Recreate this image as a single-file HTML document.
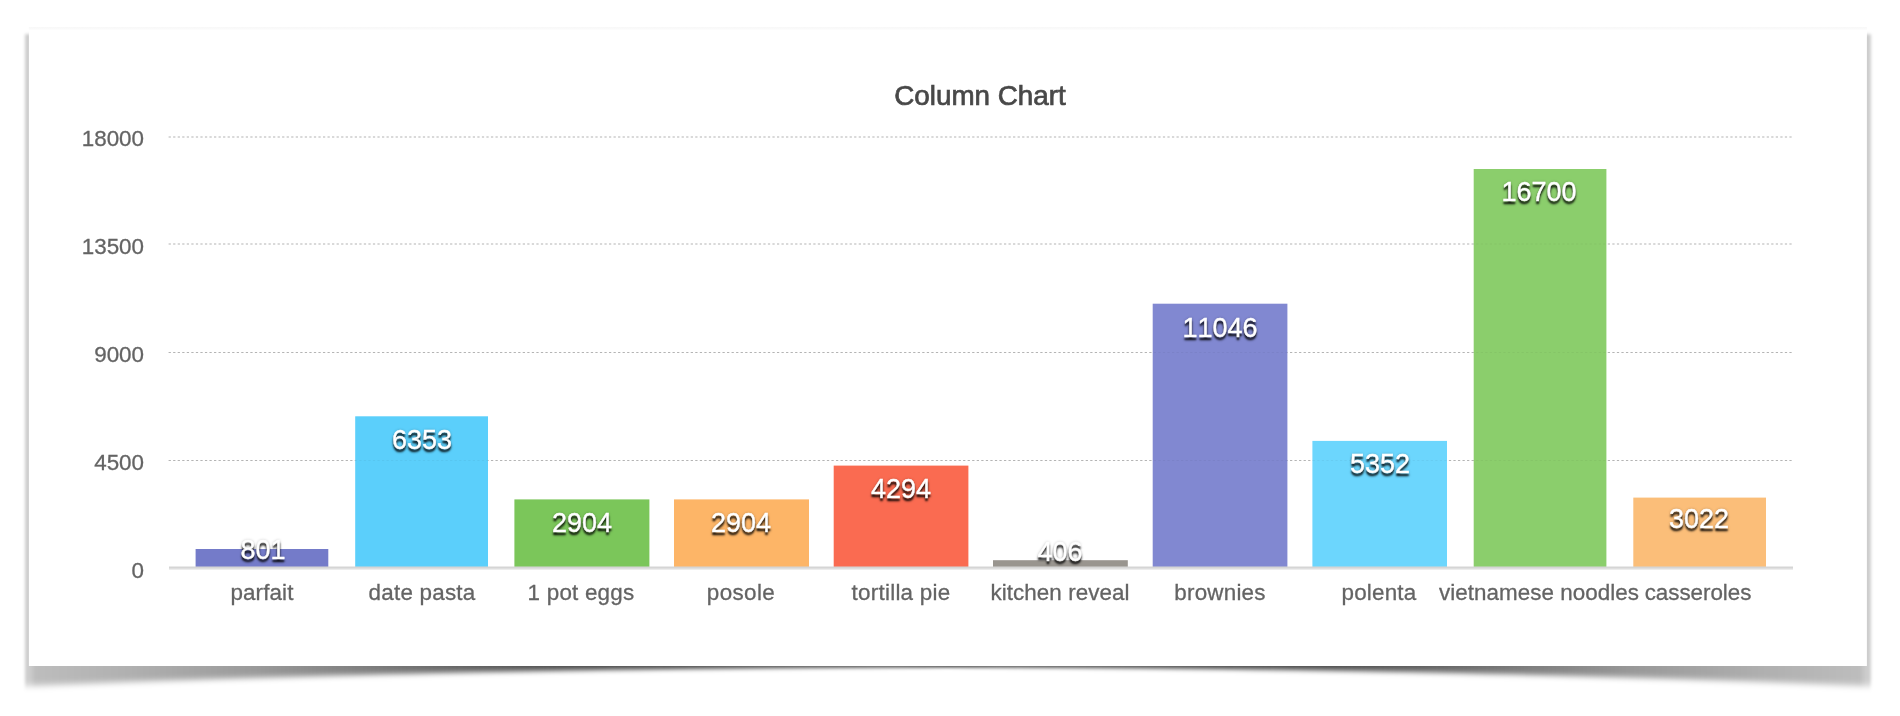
<!DOCTYPE html>
<html lang="en"><head><meta charset="utf-8"><title>Column Chart</title>
<style>
html,body{margin:0;padding:0;background:#fff;}
body{width:1900px;height:716px;position:relative;overflow:hidden;font-family:"Liberation Sans",Arial,Helvetica,sans-serif;}
#g{position:absolute;left:0;top:0;width:1900px;height:716px;}
.t{position:absolute;white-space:nowrap;line-height:1;will-change:transform;}
.title{font-size:27.8px;color:#484848;left:480.2px;width:1000px;text-align:center;-webkit-text-stroke:.7px #484848;}
.yl{font-size:22.4px;color:#646464;-webkit-text-stroke:.3px #646464;text-align:right;width:100px;left:44.1px;}
.xl{font-size:22.4px;color:#646464;-webkit-text-stroke:.3px #646464;text-align:center;width:300px;}
.bl{font-kerning:none;font-size:27px;color:#fff;text-align:center;width:200px;-webkit-text-stroke:.4px #fff;text-shadow:0 2.6px 2px rgba(0,0,0,.8),0 3px 3px rgba(0,0,0,.4),0 0 3px rgba(0,0,0,.25);}
</style></head><body>
<svg id="g" width="1900" height="716" viewBox="0 0 1900 716">
<defs>
<linearGradient id="sg" gradientUnits="userSpaceOnUse" x1="25.0" y1="0" x2="1870.6" y2="0"><stop offset="0.0000" stop-color="#000" stop-opacity="0.19"/><stop offset="0.0025" stop-color="#000" stop-opacity="0.2"/><stop offset="0.0060" stop-color="#000" stop-opacity="0.26"/><stop offset="0.0565" stop-color="#000" stop-opacity="0.31"/><stop offset="0.1270" stop-color="#000" stop-opacity="0.4"/><stop offset="0.1920" stop-color="#000" stop-opacity="0.52"/><stop offset="0.2450" stop-color="#000" stop-opacity="0.62"/><stop offset="0.2900" stop-color="#000" stop-opacity="0.69"/><stop offset="0.3550" stop-color="#000" stop-opacity="0.72"/><stop offset="0.5000" stop-color="#000" stop-opacity="0.73"/><stop offset="0.6450" stop-color="#000" stop-opacity="0.72"/><stop offset="0.7100" stop-color="#000" stop-opacity="0.69"/><stop offset="0.7550" stop-color="#000" stop-opacity="0.62"/><stop offset="0.8080" stop-color="#000" stop-opacity="0.52"/><stop offset="0.8730" stop-color="#000" stop-opacity="0.4"/><stop offset="0.9435" stop-color="#000" stop-opacity="0.31"/><stop offset="0.9940" stop-color="#000" stop-opacity="0.26"/><stop offset="0.9975" stop-color="#000" stop-opacity="0.2"/><stop offset="1.0000" stop-color="#000" stop-opacity="0.19"/></linearGradient>
<linearGradient id="te" x1="0" y1="0" x2="0" y2="1"><stop offset="0" stop-color="#f6f6f6"/><stop offset="1" stop-color="#fefefe"/></linearGradient>
<filter id="bl" filterUnits="userSpaceOnUse" x="0" y="0" width="1900" height="716"><feGaussianBlur stdDeviation="1.4"/></filter>
<mask id="sm" maskUnits="userSpaceOnUse" x="0" y="0" width="1900" height="716"><g filter="url(#bl)">
<path fill="#fff" fill-opacity="0.0401" d="M25.0 34.5L1870.6 34.5L1870.6 691.99L1845.0 690.91L1819.3 689.85L1793.7 688.82L1768.1 687.83L1742.4 686.85L1716.8 685.91L1691.2 684.99L1665.5 684.10L1639.9 683.24L1614.3 682.41L1588.6 681.60L1563.0 680.82L1537.4 680.06L1511.7 679.34L1486.1 678.63L1460.5 677.96L1434.8 677.31L1409.2 676.69L1383.6 676.09L1357.9 675.52L1332.3 674.98L1306.7 674.46L1281.0 673.96L1255.4 673.49L1229.8 673.05L1204.1 672.62L1178.5 672.22L1152.9 671.84L1127.2 671.47L1101.6 671.13L1076.0 670.80L1050.3 670.47L1024.7 670.15L999.1 669.80L973.4 669.40L947.8 668.48L922.2 669.40L896.5 669.80L870.9 670.15L845.3 670.47L819.6 670.80L794.0 671.13L768.4 671.47L742.7 671.84L717.1 672.22L691.5 672.62L665.8 673.05L640.2 673.49L614.6 673.96L588.9 674.46L563.3 674.98L537.7 675.52L512.0 676.09L486.4 676.69L460.8 677.31L435.1 677.96L409.5 678.63L383.9 679.34L358.2 680.06L332.6 680.82L307.0 681.60L281.3 682.41L255.7 683.24L230.1 684.10L204.4 684.99L178.8 685.91L153.2 686.85L127.5 687.83L101.9 688.82L76.3 689.85L50.6 690.91L25.0 691.99Z"/>
<path fill="#fff" fill-opacity="0.0683" d="M25.0 34.5L1870.6 34.5L1870.6 690.47L1845.0 689.40L1819.3 688.36L1793.7 687.35L1768.1 686.37L1742.4 685.42L1716.8 684.49L1691.2 683.60L1665.5 682.73L1639.9 681.88L1614.3 681.07L1588.6 680.28L1563.0 679.52L1537.4 678.78L1511.7 678.08L1486.1 677.40L1460.5 676.75L1434.8 676.12L1409.2 675.52L1383.6 674.95L1357.9 674.41L1332.3 673.89L1306.7 673.39L1281.0 672.93L1255.4 672.48L1229.8 672.07L1204.1 671.67L1178.5 671.30L1152.9 670.96L1127.2 670.63L1101.6 670.32L1076.0 670.04L1050.3 669.76L1024.7 669.49L999.1 669.22L973.4 668.90L947.8 668.21L922.2 668.90L896.5 669.22L870.9 669.49L845.3 669.76L819.6 670.04L794.0 670.32L768.4 670.63L742.7 670.96L717.1 671.30L691.5 671.67L665.8 672.07L640.2 672.48L614.6 672.93L588.9 673.39L563.3 673.89L537.7 674.41L512.0 674.95L486.4 675.52L460.8 676.12L435.1 676.75L409.5 677.40L383.9 678.08L358.2 678.78L332.6 679.52L307.0 680.28L281.3 681.07L255.7 681.88L230.1 682.73L204.4 683.60L178.8 684.49L153.2 685.42L127.5 686.37L101.9 687.35L76.3 688.36L50.6 689.40L25.0 690.47Z"/>
<path fill="#fff" fill-opacity="0.1353" d="M25.0 34.5L1870.6 34.5L1870.6 688.94L1845.0 687.90L1819.3 686.88L1793.7 685.88L1768.1 684.92L1742.4 683.99L1716.8 683.08L1691.2 682.20L1665.5 681.35L1639.9 680.52L1614.3 679.73L1588.6 678.96L1563.0 678.22L1537.4 677.51L1511.7 676.82L1486.1 676.16L1460.5 675.53L1434.8 674.93L1409.2 674.36L1383.6 673.81L1357.9 673.29L1332.3 672.80L1306.7 672.33L1281.0 671.89L1255.4 671.47L1229.8 671.09L1204.1 670.72L1178.5 670.39L1152.9 670.08L1127.2 669.79L1101.6 669.52L1076.0 669.28L1050.3 669.05L1024.7 668.84L999.1 668.63L973.4 668.41L947.8 667.94L922.2 668.41L896.5 668.63L870.9 668.84L845.3 669.05L819.6 669.28L794.0 669.52L768.4 669.79L742.7 670.08L717.1 670.39L691.5 670.72L665.8 671.09L640.2 671.47L614.6 671.89L588.9 672.33L563.3 672.80L537.7 673.29L512.0 673.81L486.4 674.36L460.8 674.93L435.1 675.53L409.5 676.16L383.9 676.82L358.2 677.51L332.6 678.22L307.0 678.96L281.3 679.73L255.7 680.52L230.1 681.35L204.4 682.20L178.8 683.08L153.2 683.99L127.5 684.92L101.9 685.88L76.3 686.88L50.6 687.90L25.0 688.94Z"/>
<path fill="#fff" fill-opacity="0.2259" d="M25.0 34.5L1870.6 34.5L1870.6 687.42L1845.0 686.39L1819.3 685.39L1793.7 684.41L1768.1 683.47L1742.4 682.55L1716.8 681.66L1691.2 680.80L1665.5 679.97L1639.9 679.16L1614.3 678.39L1588.6 677.64L1563.0 676.92L1537.4 676.23L1511.7 675.57L1486.1 674.93L1460.5 674.32L1434.8 673.74L1409.2 673.19L1383.6 672.67L1357.9 672.17L1332.3 671.70L1306.7 671.26L1281.0 670.85L1255.4 670.47L1229.8 670.11L1204.1 669.78L1178.5 669.47L1152.9 669.19L1127.2 668.94L1101.6 668.72L1076.0 668.52L1050.3 668.34L1024.7 668.18L999.1 668.04L973.4 667.91L947.8 667.67L922.2 667.91L896.5 668.04L870.9 668.18L845.3 668.34L819.6 668.52L794.0 668.72L768.4 668.94L742.7 669.19L717.1 669.47L691.5 669.78L665.8 670.11L640.2 670.47L614.6 670.85L588.9 671.26L563.3 671.70L537.7 672.17L512.0 672.67L486.4 673.19L460.8 673.74L435.1 674.32L409.5 674.93L383.9 675.57L358.2 676.23L332.6 676.92L307.0 677.64L281.3 678.39L255.7 679.16L230.1 679.97L204.4 680.80L178.8 681.66L153.2 682.55L127.5 683.47L101.9 684.41L76.3 685.39L50.6 686.39L25.0 687.42Z"/>
<path fill="#fff" fill-opacity="0.3297" d="M25.0 34.5L1870.6 34.5L1870.6 685.90L1845.0 684.89L1819.3 683.90L1793.7 682.95L1768.1 682.02L1742.4 681.12L1716.8 680.25L1691.2 679.41L1665.5 678.59L1639.9 677.81L1614.3 677.05L1588.6 676.32L1563.0 675.62L1537.4 674.95L1511.7 674.31L1486.1 673.70L1460.5 673.11L1434.8 672.55L1409.2 672.02L1383.6 671.53L1357.9 671.05L1332.3 670.61L1306.7 670.20L1281.0 669.81L1255.4 669.46L1229.8 669.13L1204.1 668.83L1178.5 668.56L1152.9 668.31L1127.2 668.10L1101.6 667.91L1076.0 667.76L1050.3 667.63L1024.7 667.53L999.1 667.46L973.4 667.41L947.8 667.40L922.2 667.41L896.5 667.46L870.9 667.53L845.3 667.63L819.6 667.76L794.0 667.91L768.4 668.10L742.7 668.31L717.1 668.56L691.5 668.83L665.8 669.13L640.2 669.46L614.6 669.81L588.9 670.20L563.3 670.61L537.7 671.05L512.0 671.53L486.4 672.02L460.8 672.55L435.1 673.11L409.5 673.70L383.9 674.31L358.2 674.95L332.6 675.62L307.0 676.32L281.3 677.05L255.7 677.81L230.1 678.59L204.4 679.41L178.8 680.25L153.2 681.12L127.5 682.02L101.9 682.95L76.3 683.90L50.6 684.89L25.0 685.90Z"/>
<path fill="#fff" fill-opacity="0.4353" d="M25.0 34.5L1870.6 34.5L1870.6 684.38L1845.0 683.38L1819.3 682.41L1793.7 681.48L1768.1 680.57L1742.4 679.68L1716.8 678.83L1691.2 678.01L1665.5 677.21L1639.9 676.45L1614.3 675.71L1588.6 675.00L1563.0 674.32L1537.4 673.67L1511.7 673.05L1486.1 672.46L1460.5 671.90L1434.8 671.36L1409.2 670.86L1383.6 670.38L1357.9 669.94L1332.3 669.52L1306.7 669.13L1281.0 668.77L1255.4 668.45L1229.8 668.15L1204.1 667.88L1178.5 667.64L1152.9 667.43L1127.2 667.26L1101.6 667.11L1076.0 667.00L1050.3 666.92L1024.7 666.87L999.1 666.87L973.4 666.92L947.8 667.13L922.2 666.92L896.5 666.87L870.9 666.87L845.3 666.92L819.6 667.00L794.0 667.11L768.4 667.26L742.7 667.43L717.1 667.64L691.5 667.88L665.8 668.15L640.2 668.45L614.6 668.77L588.9 669.13L563.3 669.52L537.7 669.94L512.0 670.38L486.4 670.86L460.8 671.36L435.1 671.90L409.5 672.46L383.9 673.05L358.2 673.67L332.6 674.32L307.0 675.00L281.3 675.71L255.7 676.45L230.1 677.21L204.4 678.01L178.8 678.83L153.2 679.68L127.5 680.57L101.9 681.48L76.3 682.41L50.6 683.38L25.0 684.38Z"/>
<path fill="#fff" fill-opacity="0.5338" d="M25.0 34.5L1870.6 34.5L1870.6 682.86L1845.0 681.88L1819.3 680.93L1793.7 680.01L1768.1 679.11L1742.4 678.25L1716.8 677.42L1691.2 676.61L1665.5 675.84L1639.9 675.09L1614.3 674.37L1588.6 673.68L1563.0 673.03L1537.4 672.40L1511.7 671.80L1486.1 671.23L1460.5 670.68L1434.8 670.17L1409.2 669.69L1383.6 669.24L1357.9 668.82L1332.3 668.43L1306.7 668.07L1281.0 667.74L1255.4 667.44L1229.8 667.17L1204.1 666.93L1178.5 666.72L1152.9 666.55L1127.2 666.41L1101.6 666.31L1076.0 666.24L1050.3 666.21L1024.7 666.22L999.1 666.28L973.4 666.42L947.8 666.86L922.2 666.42L896.5 666.28L870.9 666.22L845.3 666.21L819.6 666.24L794.0 666.31L768.4 666.41L742.7 666.55L717.1 666.72L691.5 666.93L665.8 667.17L640.2 667.44L614.6 667.74L588.9 668.07L563.3 668.43L537.7 668.82L512.0 669.24L486.4 669.69L460.8 670.17L435.1 670.68L409.5 671.23L383.9 671.80L358.2 672.40L332.6 673.03L307.0 673.68L281.3 674.37L255.7 675.09L230.1 675.84L204.4 676.61L178.8 677.42L153.2 678.25L127.5 679.11L101.9 680.01L76.3 680.93L50.6 681.88L25.0 682.86Z"/>
<path fill="#fff" fill-opacity="0.6208" d="M25.0 34.5L1870.6 34.5L1870.6 681.33L1845.0 680.37L1819.3 679.44L1793.7 678.54L1768.1 677.66L1742.4 676.82L1716.8 676.00L1691.2 675.21L1665.5 674.46L1639.9 673.73L1614.3 673.03L1588.6 672.36L1563.0 671.73L1537.4 671.12L1511.7 670.54L1486.1 669.99L1460.5 669.47L1434.8 668.98L1409.2 668.53L1383.6 668.10L1357.9 667.70L1332.3 667.34L1306.7 667.00L1281.0 666.70L1255.4 666.43L1229.8 666.19L1204.1 665.98L1178.5 665.81L1152.9 665.67L1127.2 665.57L1101.6 665.50L1076.0 665.48L1050.3 665.50L1024.7 665.57L999.1 665.70L973.4 665.93L947.8 666.59L922.2 665.93L896.5 665.70L870.9 665.57L845.3 665.50L819.6 665.48L794.0 665.50L768.4 665.57L742.7 665.67L717.1 665.81L691.5 665.98L665.8 666.19L640.2 666.43L614.6 666.70L588.9 667.00L563.3 667.34L537.7 667.70L512.0 668.10L486.4 668.53L460.8 668.98L435.1 669.47L409.5 669.99L383.9 670.54L358.2 671.12L332.6 671.73L307.0 672.36L281.3 673.03L255.7 673.73L230.1 674.46L204.4 675.21L178.8 676.00L153.2 676.82L127.5 677.66L101.9 678.54L76.3 679.44L50.6 680.37L25.0 681.33Z"/>
<path fill="#fff" fill-opacity="1.0000" d="M25.0 34.5L1870.6 34.5L1870.6 679.81L1845.0 678.87L1819.3 677.95L1793.7 677.07L1768.1 676.21L1742.4 675.38L1716.8 674.59L1691.2 673.82L1665.5 673.08L1639.9 672.37L1614.3 671.69L1588.6 671.05L1563.0 670.43L1537.4 669.84L1511.7 669.28L1486.1 668.76L1460.5 668.26L1434.8 667.79L1409.2 667.36L1383.6 666.96L1357.9 666.58L1332.3 666.24L1306.7 665.94L1281.0 665.66L1255.4 665.42L1229.8 665.21L1204.1 665.03L1178.5 664.89L1152.9 664.79L1127.2 664.72L1101.6 664.70L1076.0 664.72L1050.3 664.79L1024.7 664.91L999.1 665.11L973.4 665.43L947.8 666.32L922.2 665.43L896.5 665.11L870.9 664.91L845.3 664.79L819.6 664.72L794.0 664.70L768.4 664.72L742.7 664.79L717.1 664.89L691.5 665.03L665.8 665.21L640.2 665.42L614.6 665.66L588.9 665.94L563.3 666.24L537.7 666.58L512.0 666.96L486.4 667.36L460.8 667.79L435.1 668.26L409.5 668.76L383.9 669.28L358.2 669.84L332.6 670.43L307.0 671.05L281.3 671.69L255.7 672.37L230.1 673.08L204.4 673.82L178.8 674.59L153.2 675.38L127.5 676.21L101.9 677.07L76.3 677.95L50.6 678.87L25.0 679.81Z"/>
</g></mask>
</defs>
<rect x="0" y="0" width="1900" height="716" fill="url(#sg)" mask="url(#sm)"/>
<rect x="28.9" y="27.4" width="1838" height="638.6" fill="#fff"/>
<rect x="28.9" y="27.2" width="1838" height="3" fill="url(#te)"/>
<line x1="168.6" x2="1793" y1="137.0" y2="137.0" stroke="#bdbdbd" stroke-width="1.1" stroke-dasharray="2.27 2.27"/>
<line x1="168.6" x2="1793" y1="244.0" y2="244.0" stroke="#bdbdbd" stroke-width="1.1" stroke-dasharray="2.27 2.27"/>
<line x1="168.6" x2="1793" y1="352.45" y2="352.45" stroke="#bdbdbd" stroke-width="1.1" stroke-dasharray="2.27 2.27"/>
<line x1="168.6" x2="1793" y1="460.45" y2="460.45" stroke="#bdbdbd" stroke-width="1.1" stroke-dasharray="2.27 2.27"/>
<rect x="195.6" y="549.0" width="132.7" height="19.0" fill="#747bc9"/>
<rect x="355.2" y="416.3" width="132.8" height="151.7" fill="#5bcffb"/>
<rect x="514.4" y="499.4" width="135.0" height="68.6" fill="#7bc65a"/>
<rect x="674.0" y="499.4" width="135.0" height="68.6" fill="#fdb567"/>
<rect x="833.7" y="465.6" width="134.7" height="102.4" fill="#fa6b51"/>
<rect x="993.0" y="560.2" width="134.8" height="7.8" fill="#99958f"/>
<rect x="1152.7" y="303.7" width="134.7" height="264.3" fill="#8188d1"/>
<rect x="1312.4" y="440.9" width="134.6" height="127.1" fill="#6cd6fd"/>
<rect x="1473.7" y="169.0" width="132.7" height="399.0" fill="#8bce6c"/>
<rect x="1633.3" y="497.6" width="132.7" height="70.4" fill="#fbbe79"/>
<line x1="168.6" x2="1793" y1="137.0" y2="137.0" stroke="#000" stroke-opacity=".045" stroke-width="1.1" stroke-dasharray="2.27 2.27"/>
<line x1="168.6" x2="1793" y1="244.0" y2="244.0" stroke="#000" stroke-opacity=".045" stroke-width="1.1" stroke-dasharray="2.27 2.27"/>
<line x1="168.6" x2="1793" y1="352.45" y2="352.45" stroke="#000" stroke-opacity=".045" stroke-width="1.1" stroke-dasharray="2.27 2.27"/>
<line x1="168.6" x2="1793" y1="460.45" y2="460.45" stroke="#000" stroke-opacity=".045" stroke-width="1.1" stroke-dasharray="2.27 2.27"/>
<rect x="169" y="566.5" width="1624" height="2.3" fill="#d5d5d5"/><rect x="169" y="568.8" width="1624" height="1.1" fill="#ececec"/>
</svg>
<div class="t title" style="top:82.3px">Column Chart</div>
<div class="t yl" style="top:127.7px">18000</div>
<div class="t yl" style="top:235.9px">13500</div>
<div class="t yl" style="top:343.9px">9000</div>
<div class="t yl" style="top:451.9px">4500</div>
<div class="t yl" style="top:560.0px">0</div>
<div class="t bl" style="left:162.70px;top:536.8px">801</div>
<div class="t xl" style="left:112.30px;top:582.1px;letter-spacing:0.12px">parfait</div>
<div class="t bl" style="left:322.25px;top:427.4px">6353</div>
<div class="t xl" style="left:271.85px;top:582.1px;letter-spacing:0.23px">date pasta</div>
<div class="t bl" style="left:481.80px;top:509.6px">2904</div>
<div class="t xl" style="left:431.40px;top:582.1px;letter-spacing:0.22px">1 pot eggs</div>
<div class="t bl" style="left:641.35px;top:509.6px">2904</div>
<div class="t xl" style="left:590.95px;top:582.1px;letter-spacing:0.38px">posole</div>
<div class="t bl" style="left:800.90px;top:475.7px">4294</div>
<div class="t xl" style="left:750.50px;top:582.1px;letter-spacing:0.26px">tortilla pie</div>
<div class="t bl" style="left:960.45px;top:538.5px">406</div>
<div class="t xl" style="left:910.05px;top:582.1px;letter-spacing:0.07px">kitchen reveal</div>
<div class="t bl" style="left:1120.00px;top:314.5px">11046</div>
<div class="t xl" style="left:1069.60px;top:582.1px;letter-spacing:0.21px">brownies</div>
<div class="t bl" style="left:1279.55px;top:450.7px">5352</div>
<div class="t xl" style="left:1229.15px;top:582.1px;letter-spacing:0.2px">polenta</div>
<div class="t bl" style="left:1439.10px;top:179.0px">16700</div>
<div class="t xl" style="left:1388.70px;top:582.1px;letter-spacing:0.05px">vietnamese noodles</div>
<div class="t bl" style="left:1598.65px;top:506.3px">3022</div>
<div class="t xl" style="left:1548.25px;top:582.1px;letter-spacing:-0.04px">casseroles</div>
</body></html>
